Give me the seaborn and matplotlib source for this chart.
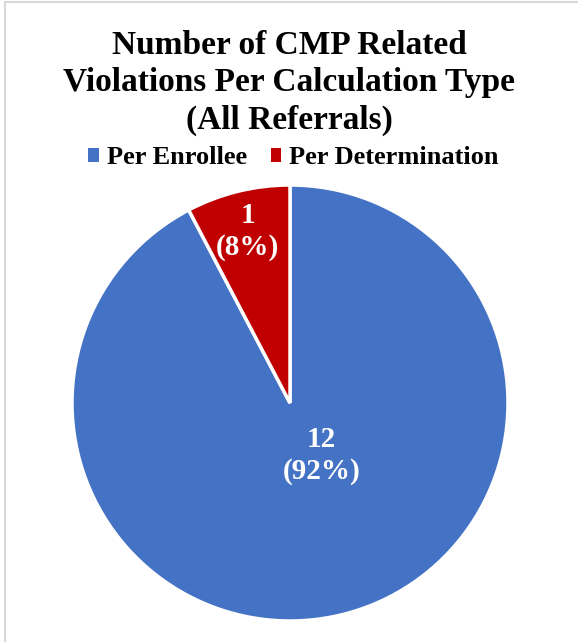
import matplotlib
matplotlib.use("Agg")
import matplotlib.pyplot as plt
from matplotlib.lines import Line2D
from matplotlib.patches import Patch
import numpy as np
import seaborn as sns

# Data
categories = ["Per Enrollee", "Per Determination"]
counts = [12, 1]
colors = ["#4472C4", "#C00000"]
title = "Number of CMP Related\nViolations Per Calculation Type\n(All Referrals)"

sns.set_theme(style="white")
plt.rcParams["font.family"] = ["Liberation Serif", "DejaVu Serif"]

W, H = 578, 642
fig = plt.figure(figsize=(W / 100, H / 100), dpi=100)
fig.patch.set_facecolor("white")

# Chart frame (left and top edges visible)
fig.add_artist(Line2D([5 / W, 5 / W], [0, 1 - 2 / H], transform=fig.transFigure,
                      color="#D9D9D9", lw=1.5))
fig.add_artist(Line2D([5 / W, 1], [1 - 2 / H, 1 - 2 / H], transform=fig.transFigure,
                      color="#D9D9D9", lw=1.5))

# Pie axes: centre (290, 403) px, radius 218 px
cx, cy, r = 290, 403, 218
ax = fig.add_axes([(cx - r) / W, (H - cy - r) / H, 2 * r / W, 2 * r / H])
wedges, _ = ax.pie(counts, colors=colors, startangle=90, counterclock=False,
                   wedgeprops=dict(edgecolor="white", linewidth=2.5))
ax.set_xlim(-1, 1)
ax.set_ylim(-1, 1)
ax.set_aspect("equal")
ax.axis("off")

# Value labels placed along each wedge
total = sum(counts)
label_radius = [0.28, 0.81]
angle_shift = [17, 0]
for w, n, rad, dshift in zip(wedges, counts, label_radius, angle_shift):
    mid = np.deg2rad((w.theta1 + w.theta2) / 2 + dshift)
    ax.text(rad * np.cos(mid), rad * np.sin(mid),
            f"{n}\n({n / total:.0%})", ha="center", va="center",
            color="white", fontsize=21, fontweight="bold", linespacing=1.25)

# Title
fig.text(0.5, 1 - 83 / H, title, ha="center", va="center", fontsize=24,
         fontweight="bold", linespacing=1.25, color="black")

# Legend
handles = [Patch(facecolor=c, edgecolor="none") for c in colors]
fig.legend(handles, categories, loc="center", bbox_to_anchor=(0.508, 1 - 158 / H),
           ncol=2, frameon=False, prop=dict(size=19, weight="bold"),
           labelcolor="black",
           handlelength=0.4, handleheight=0.4, handletextpad=0.3,
           columnspacing=0.9)

fig.savefig("out.png", dpi=100)
